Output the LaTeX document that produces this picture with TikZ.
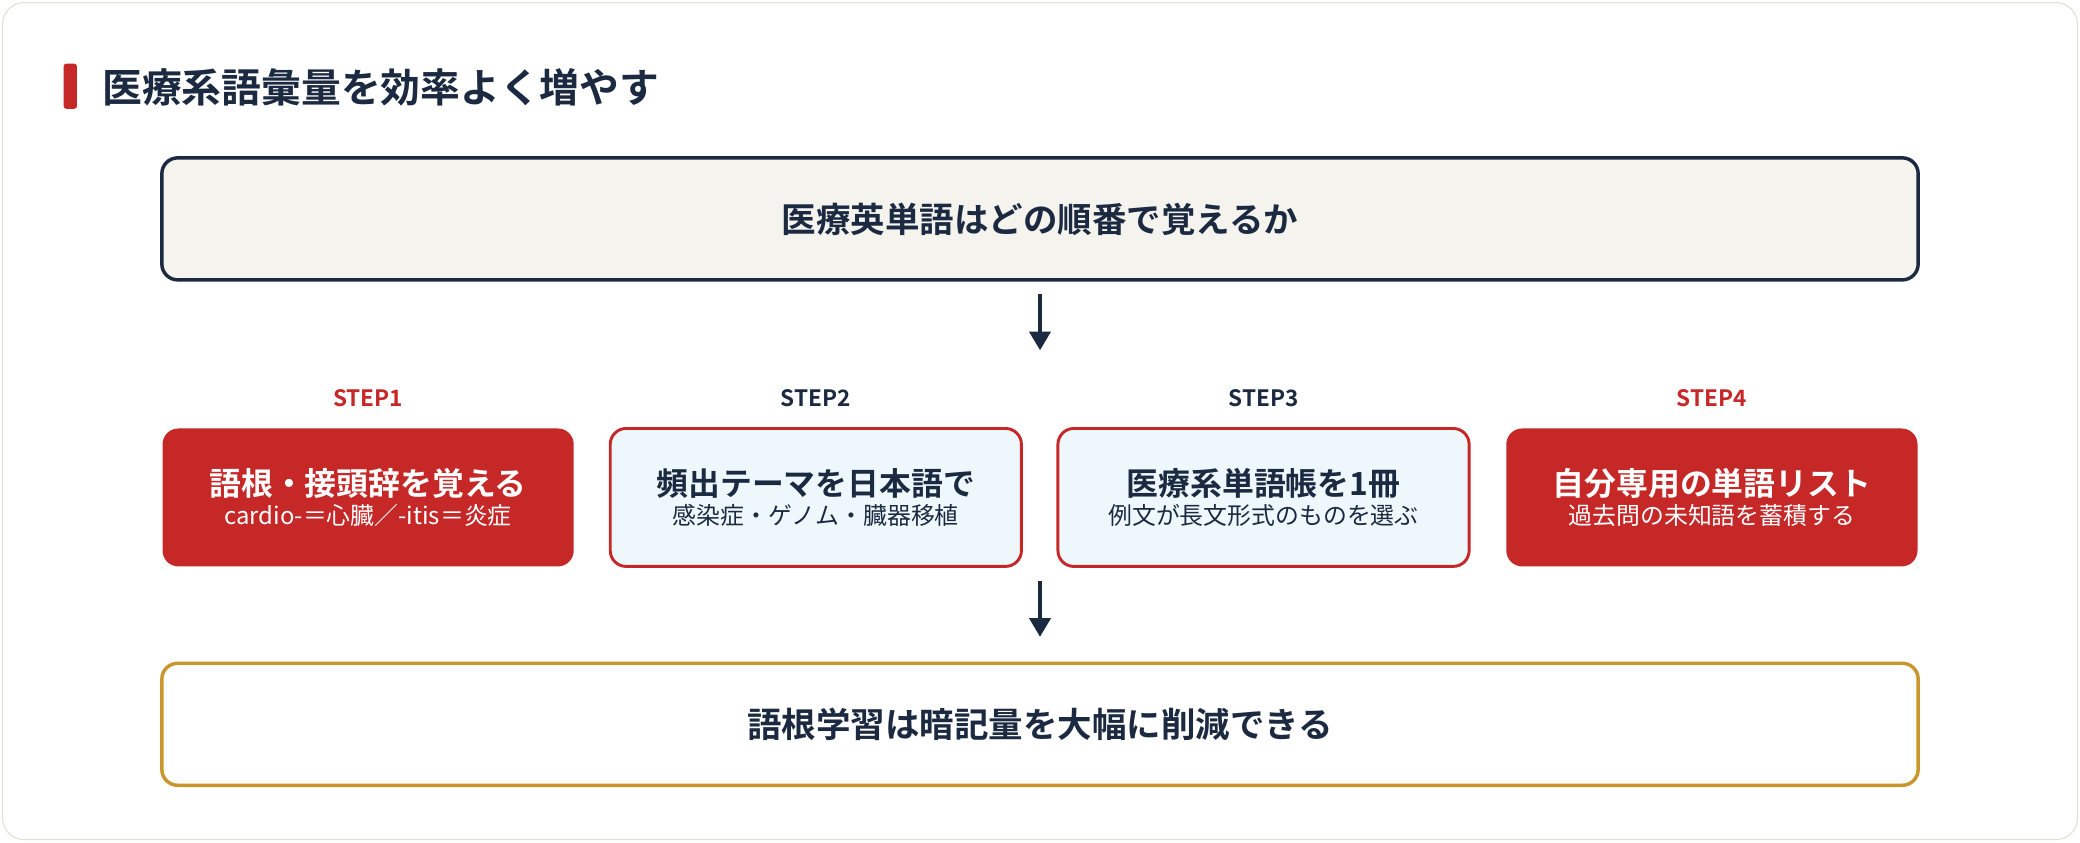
\documentclass[tikz,border=0pt]{standalone}
\usepackage{fontspec}
\setmainfont{Noto Sans CJK JP}[BoldFont={* Bold}]
\usetikzlibrary{positioning,arrows.meta}
\definecolor{navy}{HTML}{1B2A41}
\definecolor{stepred}{HTML}{C62828}
\definecolor{cream}{HTML}{F5F3EE}
\definecolor{paleblue}{HTML}{EEF8FC}
\definecolor{gold}{HTML}{C9962E}
\definecolor{frame}{HTML}{E2DFD2}
\begin{document}
\begin{tikzpicture}[x=0.5pt,y=-0.5pt,
	bigbox/.style={draw=navy, line width=1.3pt, rounded corners=6pt, minimum width=662pt, minimum height=46pt, font=\bfseries\fontsize{13}{15}\selectfont, text=navy},
	solid step/.style={fill=stepred, rounded corners=6pt, minimum width=155pt, minimum height=52pt, text=white, align=center},
	open step/.style={fill=paleblue, draw=stepred, line width=1.1pt, rounded corners=6pt, minimum width=155pt, minimum height=52pt, text=navy, align=center},
	steplabel/.style={font=\bfseries\fontsize{8.5}{10}\selectfont},
	flow/.style={navy, line width=1.2pt, -{Triangle[length=7pt,width=8pt]}}]
	\useasboundingbox (0,0) rectangle (1568,635);
	\draw[frame, fill=white, rounded corners=8pt] (2,2) rectangle (1566,633);

	% title
	\fill[stepred, rounded corners=1pt] (48,48) rectangle (58,82);
	\node[anchor=west, text=navy, font=\bfseries\fontsize{15}{18}\selectfont] (title) at (70,66) {医療系語彙量を効率よく増やす};

	\node[bigbox, fill=cream] (top) at (784,165) {医療英単語はどの順番で覚えるか};

	\node[solid step] (s1) at (277.5,375) {{\bfseries\fontsize{12}{14}\selectfont 語根・接頭辞を覚える}\\[-1pt]{\fontsize{9}{11}\selectfont cardio-＝心臓／-itis＝炎症}};
	\node[open step] (s2) at (615,375) {{\bfseries\fontsize{12}{14}\selectfont 頻出テーマを日本語で}\\[-1pt]{\fontsize{9}{11}\selectfont 感染症・ゲノム・臓器移植}};
	\node[open step] (s3) at (952.5,375) {{\bfseries\fontsize{12}{14}\selectfont 医療系単語帳を1冊}\\[-1pt]{\fontsize{9}{11}\selectfont 例文が長文形式のものを選ぶ}};
	\node[solid step] (s4) at (1290.5,375) {{\bfseries\fontsize{12}{14}\selectfont 自分専用の単語リスト}\\[-1pt]{\fontsize{9}{11}\selectfont 過去問の未知語を蓄積する}};

	\node[steplabel, text=stepred] (l1) at (277.5,300) {STEP1};
	\node[steplabel, text=navy] (l2) at (615,300) {STEP2};
	\node[steplabel, text=navy] (l3) at (952.5,300) {STEP3};
	\node[steplabel, text=stepred] (l4) at (1290.5,300) {STEP4};

	\node[bigbox, draw=gold, fill=white] (bottom) at (784,546) {語根学習は暗記量を大幅に削減できる};

	\coordinate (a1) at (784,222);
	\coordinate (a2) at (784,264);
	\coordinate (b1) at (784,438);
	\coordinate (b2) at (784,480);
	\draw[flow] (a1) -- (a2);
	\draw[flow] (b1) -- (b2);
\end{tikzpicture}
\end{document}
